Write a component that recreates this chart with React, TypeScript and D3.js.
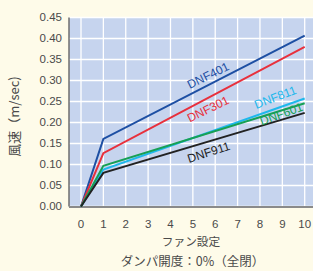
import React from "react";
import * as d3 from "d3";

const xTicks = [0, 1, 2, 3, 4, 5, 6, 7, 8, 9, 10];
const yTicks = [0, 0.05, 0.1, 0.15, 0.2, 0.25, 0.3, 0.35, 0.4, 0.45];
const fanSettings = [0, 1, 10];
const seriesNames = ["DNF401", "DNF301", "DNF811", "DNF601", "DNF911"];
const dnf401 = [0, 0.161, 0.407];
const dnf301 = [0, 0.127, 0.38];
const dnf811 = [0, 0.088, 0.257];
const dnf601 = [0, 0.097, 0.246];
const dnf911 = [0, 0.08, 0.223];
const seriesColors = ["#1d4fa3", "#e8303c", "#1eb8ec", "#17a055", "#222222"];
// label anchor positions in data units (x, y) and rotation angle
const labelPos: [number, number, number][] = [
  [5.7, 0.31, -26],
  [5.7, 0.23, -26],
  [8.7, 0.258, -21],
  [8.97, 0.218, -20],
  [5.72, 0.127, -18],
];

export default function App() {
  const W = 313, H = 271;
  const left = 69, right = 313, top = 17.5, bottom = 206.5;
  const x = d3.scaleLinear().domain([0, 10]).range([81, 304.7]);
  const y = d3.scaleLinear().domain([0, 0.45]).range([bottom, top]);
  const all = [dnf401, dnf301, dnf811, dnf601, dnf911];
  const line = d3
    .line<number>()
    .x((_, i) => x(fanSettings[i]))
    .y((d) => y(d));
  const font = "'Liberation Sans', Arial, 'Noto Sans CJK JP', sans-serif";
  const cjk = "'Noto Sans CJK JP', sans-serif";
  const txt = "#4a4a4a";
  return (
    <svg
      width={W}
      height={H}
      style={{ position: "absolute", left: 0, top: 0, background: "#fefbe9" }}
    >
      <rect x={0} y={0} width={W} height={H} fill="#fefbe9" />
      <rect x={left} y={top} width={right - left} height={bottom - top} fill="#c6d4ee" />
      {xTicks.map((t) => (
        <line key={"gx" + t} x1={x(t)} x2={x(t)} y1={top} y2={bottom} stroke="#ffffff" strokeWidth={1.3} />
      ))}
      {yTicks.map((t) => (
        <line key={"gy" + t} x1={left} x2={right} y1={y(t)} y2={y(t)} stroke="#ffffff" strokeWidth={1.3} />
      ))}
      <line x1={left} x2={left} y1={top} y2={bottom} stroke="#6e6e6e" strokeWidth={1.5} />
      <line x1={left} x2={right} y1={bottom + 0.5} y2={bottom + 0.5} stroke="#8a8a8a" strokeWidth={2} />
      {all.map((s, i) => (
        <path key={"s" + i} d={line(s) || ""} fill="none" stroke={seriesColors[i]} strokeWidth={2} />
      ))}
      {seriesNames.map((n, i) => {
        const [lx, ly, a] = labelPos[i];
        return (
          <text
            key={"l" + n}
            x={x(lx)}
            y={y(ly)}
            transform={`rotate(${a},${x(lx)},${y(ly)})`}
            textAnchor="middle"
            dominantBaseline="middle"
            fontFamily={font}
            fontSize={12}
            fill={seriesColors[i]}
          >
            {n}
          </text>
        );
      })}
      {yTicks.map((t) => (
        <text
          key={"yl" + t}
          x={62}
          y={y(t)}
          textAnchor="end"
          dominantBaseline="middle"
          fontFamily={font}
          fontSize={11.5}
          fill={txt}
        >
          {t.toFixed(2)}
        </text>
      ))}
      {xTicks.map((t) => (
        <text
          key={"xl" + t}
          x={x(t)}
          y={225}
          textAnchor="middle"
          dominantBaseline="middle"
          fontFamily={font}
          fontSize={11.5}
          fill={txt}
        >
          {t}
        </text>
      ))}
      <text
        x={15}
        y={116.5}
        transform="rotate(-90,15,116.5)"
        textAnchor="middle"
        dominantBaseline="middle"
        fontFamily={cjk}
        fontSize={13}
        fill={txt}
      >
        風速（m/sec)
      </text>
      <text x={191} y={243} textAnchor="middle" dominantBaseline="middle" fontFamily={cjk} fontSize={11.7} fill={txt}>
        ファン設定
      </text>
      <text x={192.5} y={263} textAnchor="middle" dominantBaseline="middle" fontFamily={cjk} fontSize={12.5} fill={txt}>
        ダンパ開度：0%（全閉）
      </text>
    </svg>
  );
}
